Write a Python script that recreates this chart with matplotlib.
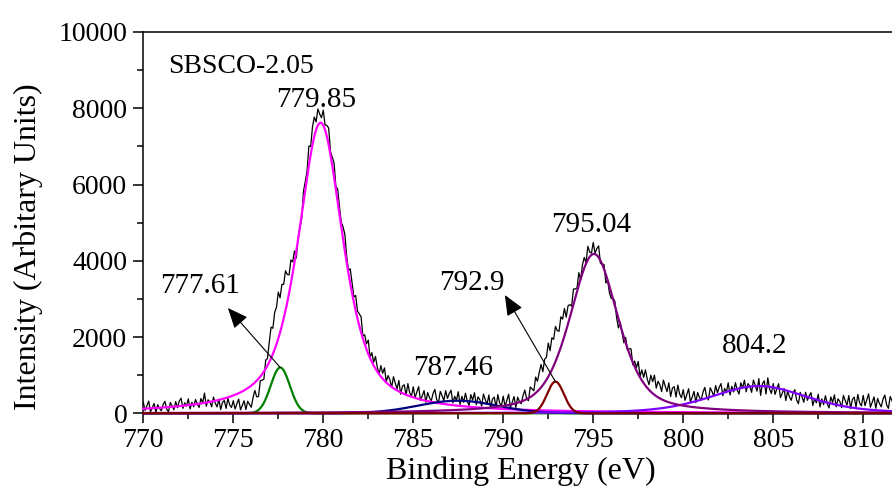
import numpy as np
import matplotlib
matplotlib.use("Agg")
import matplotlib.pyplot as plt
from matplotlib.ticker import MultipleLocator

plt.rcParams["font.family"] = ["Liberation Serif", "DejaVu Serif"]

# Measured Co 2p spectrum, 0.1 eV steps starting at 770.0 eV (one row per eV)
energy_start = 770.0
energy_step = 0.1
intensity = [
    290, 74, 202, 322, 42, 146, 258, 18, 226, 122,             # 770
    68, 228, 316, 108, 36, 284, 196, 92, 308, 148,             # 771
    322, 394, 130, 274, 194, 378, 114, 290, 170, 362,          # 772
    242, 154, 386, 274, 530, 186, 354, 298, 170, 426,          # 773
    264, 168, 368, 96, 288, 336, 128, 392, 216, 152,           # 774
    330, 114, 252, 372, 92, 206, 328, 98, 316, 232,            # 775
    160, 420, 600, 430, 440, 850, 870, 890, 1390, 1440,        # 776
    1870, 2260, 2230, 2650, 2780, 3180, 3030, 3380, 3380, 3740,  # 777
    3640, 3630, 4020, 3970, 4260, 4070, 4580, 4860, 5100, 5820,  # 778
    6080, 6360, 7010, 7000, 7510, 7770, 7640, 7980, 7850, 7750,  # 779
    7950, 7560, 7550, 7480, 6870, 6720, 6560, 5950, 5880, 5420,  # 780
    5010, 4890, 4690, 4130, 3750, 3790, 3420, 3050, 3090, 2680,  # 781
    2610, 2530, 2030, 2060, 1820, 1920, 1470, 1590, 1340, 1490,  # 782
    1210, 1030, 1250, 1050, 1190, 830, 990, 880, 680, 960,     # 783
    790, 640, 860, 500, 710, 750, 470, 780, 540, 450,          # 784
    695, 410, 560, 700, 340, 460, 595, 290, 545, 410,          # 785
    325, 520, 625, 360, 270, 575, 460, 330, 595, 390,          # 786
    520, 605, 270, 445, 340, 565, 230, 445, 290, 525,          # 787
    320, 205, 490, 345, 540, 225, 430, 355, 190, 505,          # 788
    360, 235, 480, 135, 370, 425, 160, 490, 270, 190,          # 789
    450, 180, 345, 500, 155, 290, 440, 150, 425, 310,          # 790
    250, 470, 610, 380, 330, 690, 640, 590, 950, 840,          # 791
    1070, 1280, 1090, 1420, 1470, 1840, 1640, 1980, 1940, 2280,  # 792
    2170, 2150, 2530, 2470, 2750, 2520, 2820, 2850, 2810, 3260,  # 793
    3260, 3290, 3690, 3500, 3890, 4090, 3950, 4380, 4230, 4200,  # 794
    4480, 4200, 4320, 4390, 3930, 3920, 3900, 3420, 3490, 3160,  # 795
    3010, 3020, 2940, 2500, 2240, 2390, 2120, 1850, 1990, 1660,  # 796
    1690, 1690, 1270, 1370, 1200, 1360, 970, 1140, 940, 1140,   # 797
    900, 750, 1000, 830, 1000, 660, 840, 750, 570, 870,        # 798
    710, 570, 800, 440, 660, 700, 425, 740, 505, 410,          # 799
    620, 340, 495, 645, 295, 430, 575, 280, 545, 420,          # 800
    350, 560, 680, 430, 350, 670, 570, 450, 730, 540,          # 801
    680, 780, 460, 650, 560, 800, 480, 705, 560, 805,          # 802
    610, 505, 800, 665, 870, 565, 780, 710, 550, 870,          # 803
    740, 580, 910, 470, 775, 850, 505, 930, 630, 520,          # 804
    780, 495, 640, 775, 410, 525, 650, 335, 580, 435,          # 805
    340, 525, 620, 350, 250, 550, 430, 290, 550, 340,          # 806
    460, 540, 205, 380, 275, 500, 165, 380, 225, 460,          # 807
    255, 140, 430, 285, 485, 170, 380, 310, 150, 470,          # 808
    335, 215, 465, 125, 365, 425, 165, 495, 275, 195,          # 809
    470, 200, 360, 510, 160, 290, 430, 130, 390, 260,          # 810
    170, 370, 480, 220, 130, 440, 330, 200, 470, 270,          # 811
]

# Fitted components: centre (eV), height, FWHM (eV), Lorentzian fraction
peak_labels = ["779.85", "777.61", "787.46", "804.2", "795.04", "792.9"]
peak_centers = [779.85, 777.61, 787.46, 804.2, 795.04, 792.9]
peak_heights = [7620, 1200, 330, 715, 4180, 830]
peak_fwhm = [3.0, 1.25, 5.2, 6.4, 3.2, 1.1]
peak_lorentz = [0.7, 0.0, 0.0, 0.4, 0.5, 0.0]
peak_colors = ["#FF00FF", "#008000", "#000080", "#8000FF", "#800080", "#800000"]

sample_name = "SBSCO-2.05"

x_min, x_max = 770.0, 811.6


def pseudo_voigt(x, center, height, fwhm, eta):
    d = (x - center) / (fwhm / 2.0)
    lor = 1.0 / (1.0 + d ** 2)
    gau = np.exp(-np.log(2.0) * d ** 2)
    return height * (eta * lor + (1.0 - eta) * gau)


fig = plt.figure(figsize=(8.92, 4.88), dpi=100)
ax = fig.add_axes([143.3 / 892, 1 - 413.3 / 488, (892 - 143.3) / 892, (413.3 - 32) / 488])

energy = energy_start + energy_step * np.arange(len(intensity))
ax.plot(energy, intensity, color="black", lw=0.9, zorder=2)

grid = np.linspace(x_min, x_max, 2000)
for c, h, w, eta, col in zip(peak_centers, peak_heights, peak_fwhm, peak_lorentz, peak_colors):
    ax.plot(grid, pseudo_voigt(grid, c, h, w, eta), color=col, lw=1.6,
            clip_on=False, zorder=3)

ax.set_xlim(x_min, x_max)
ax.set_ylim(0, 10000)

ax.xaxis.set_major_locator(MultipleLocator(5))
ax.xaxis.set_minor_locator(MultipleLocator(2.5))
ax.yaxis.set_major_locator(MultipleLocator(2000))
ax.yaxis.set_minor_locator(MultipleLocator(1000))
ax.tick_params(which="both", direction="out", width=1.1, top=False, right=False)
ax.tick_params(which="major", length=7.5, labelsize=20)
ax.tick_params(which="minor", length=4.5)
ax.tick_params(axis="x", pad=3)
ax.tick_params(axis="y", pad=4)

for side in ["left", "bottom", "top"]:
    ax.spines[side].set_linewidth(1.1)
ax.spines["right"].set_visible(False)

fig.text(521 / 892, 1 - 479.3 / 488, "Binding Energy (eV)", fontsize=23,
         ha="center", va="baseline")
fig.text(28.5 / 892, 1 - 246.5 / 488, "Intensity (Arbitary Units)", fontsize=23,
         rotation=90, ha="center", va="center")

ax.text(771.39, 8917, sample_name, fontsize=20, ha="left", va="baseline")

# Peak position labels
label_pos = {
    "779.85": (779.59, 8033),
    "777.61": (773.18, 3147),
    "787.46": (787.22, 1004),
    "804.2": (803.98, 1573),
    "795.04": (794.91, 4763),
    "792.9": (788.24, 3234),
}
for lab in peak_labels:
    lx, ly = label_pos[lab]
    ax.text(lx, ly, lab, fontsize=21, ha="center", va="baseline")

# Arrows from the small components up towards their labels
arrow_heads = {"777.61": (774.7, 2762), "792.9": (790.09, 3102)}
for lab, head in arrow_heads.items():
    i = peak_labels.index(lab)
    ax.annotate("", xy=head, xytext=(peak_centers[i], peak_heights[i]),
                arrowprops=dict(arrowstyle="-|>,head_length=0.7,head_width=0.3",
                                color="black", lw=0.8, shrinkA=0, shrinkB=0,
                                mutation_scale=18),
                zorder=4)

fig.savefig("out.png", dpi=100)
